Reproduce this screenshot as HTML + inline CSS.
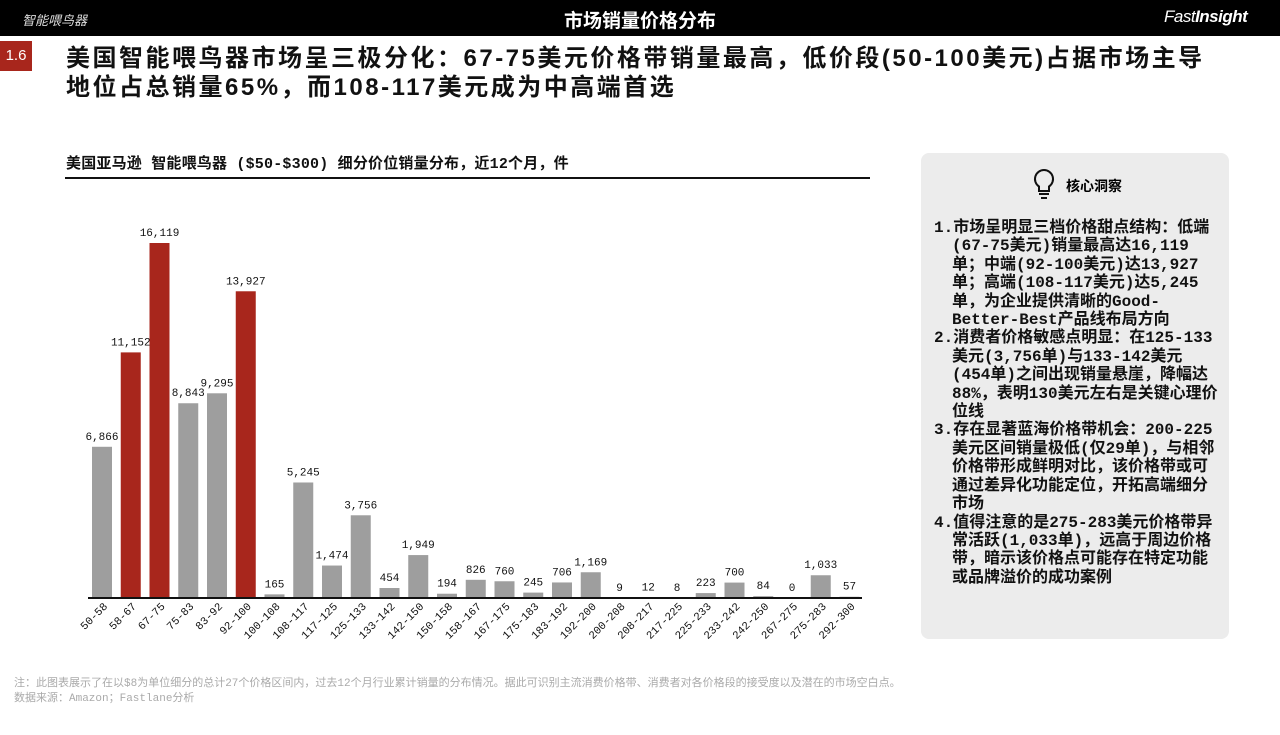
<!DOCTYPE html>
<html><head><meta charset="utf-8"><style>
body{margin:0;width:1280px;height:735px;background:#fff;font-family:"Liberation Sans","Noto Sans CJK SC",sans-serif;position:relative;overflow:hidden}
.abs{position:absolute}
#topbar{left:0;top:0;width:1280px;height:36px;background:#000;color:#fff}
#panel{left:921px;top:153px;width:308px;height:486px;background:#ececec;border-radius:8px}
ol{margin:0;padding:0;list-style:none}
li{font-family:"Liberation Mono","Noto Sans CJK SC",monospace;font-size:16px;line-height:18.4px;font-weight:bold;color:#111;padding-left:18px;text-indent:-18px}
</style></head><body>
<div class="abs" id="topbar">
 <div class="abs" style="left:22px;top:10px;font-size:13px;font-style:italic;color:#ddd">智能喂鸟器</div>
 <div class="abs" style="left:0;width:1280px;top:6px;text-align:center;font-size:19px;font-weight:bold">市场销量价格分布</div>
 <div class="abs" style="left:1164px;top:7px;font-size:17px;font-style:italic;letter-spacing:-0.5px">Fast<b>Insight</b></div>
</div>
<div class="abs" style="left:0;top:41px;width:32px;height:30px;background:#a8261c;color:#fff;font-size:15px;line-height:30px;text-align:center">1.6</div>
<div class="abs" style="left:66px;top:44px;width:1200px;font-size:24px;line-height:29px;font-weight:bold;color:#111;letter-spacing:2.5px">美国智能喂鸟器市场呈三极分化：67-75美元价格带销量最高，低价段(50-100美元)占据市场主导<br>地位占总销量65%，而108-117美元成为中高端首选</div>
<div class="abs" style="left:66px;top:152px;font-family:'Liberation Mono','Noto Sans CJK SC',monospace;font-size:15px;letter-spacing:0.2px;font-weight:bold;color:#111">美国亚马逊 智能喂鸟器 ($50-$300) 细分价位销量分布，近12个月，件</div>
<div class="abs" style="left:65px;top:177px;width:805px;height:2px;background:#111"></div>
<svg class="abs" style="left:0;top:0" width="900" height="660" id="chart" font-family="Liberation Mono, monospace"></svg>
<div class="abs" id="panel">
 <svg class="abs" style="left:110px;top:14px" width="26" height="34"><path d="M13 3a9 9 0 0 0-5 16.5V24h10v-4.5A9 9 0 0 0 13 3z" fill="none" stroke="#111" stroke-width="2"/><line x1="8" y1="27" x2="18" y2="27" stroke="#111" stroke-width="2"/><line x1="10" y1="31" x2="16" y2="31" stroke="#111" stroke-width="2"/></svg>
 <div class="abs" style="left:145px;top:23px;font-size:14px;font-weight:bold">核心洞察</div>
 <ol class="abs" style="left:13px;top:66px;width:285px">
  <li>1.市场呈明显三档价格甜点结构：低端(67-75美元)销量最高达16,119单；中端(92-100美元)达13,927单；高端(108-117美元)达5,245单，为企业提供清晰的Good-Better-Best产品线布局方向</li>
  <li>2.消费者价格敏感点明显：在125-133美元(3,756单)与133-142美元(454单)之间出现销量悬崖，降幅达88%，表明130美元左右是关键心理价位线</li>
  <li>3.存在显著蓝海价格带机会：200-225美元区间销量极低(仅29单)，与相邻价格带形成鲜明对比，该价格带或可通过差异化功能定位，开拓高端细分市场</li>
  <li>4.值得注意的是275-283美元价格带异常活跃(1,033单)，远高于周边价格带，暗示该价格点可能存在特定功能或品牌溢价的成功案例</li>
 </ol>
</div>
<div class="abs" style="left:14px;top:677px;font-size:11px;color:#aaa;line-height:15px;font-family:'Liberation Mono','Noto Sans CJK SC',monospace">注：此图表展示了在以$8为单位细分的总计27个价格区间内，过去12个月行业累计销量的分布情况。据此可识别主流消费价格带、消费者对各价格段的接受度以及潜在的市场空白点。<br>数据来源：Amazon；Fastlane分析</div>
<script>
const categories=["50-58","58-67","67-75","75-83","83-92","92-100","100-108","108-117","117-125","125-133","133-142","142-150","150-158","158-167","167-175","175-183","183-192","192-200","200-208","208-217","217-225","225-233","233-242","242-250","267-275","275-283","292-300"];
const sales=[6866,11152,16119,8843,9295,13927,165,5245,1474,3756,454,1949,194,826,760,245,706,1169,9,12,8,223,700,84,0,1033,57];
const highlighted=[1,2,5];
const svg=document.getElementById('chart');
const NS='http://www.w3.org/2000/svg';
const base=598,x0=102,step=28.75,bw=20;
const y=v=>base-v*(355/16119);
const x=i=>x0+i*step;
function mk(t,a){const e=document.createElementNS(NS,t);for(const k in a)e.setAttribute(k,a[k]);svg.appendChild(e);return e;}
sales.forEach((v,i)=>{
 const r=mk('rect',{x:x(i)-bw/2,y:y(v),width:bw,height:base-y(v),fill:highlighted.includes(i)?'#a8261c':'#9e9e9e'});
 
 
 const t=mk('text',{x:x(i),y:y(v)-7,'text-anchor':'middle','font-size':'11','fill':'#111'});
 t.textContent=v.toLocaleString('en-US');
 
 
 const l=mk('text',{transform:`translate(${x(i)+6},${base+9}) rotate(-45)`,'text-anchor':'end','font-size':'11','fill':'#111'});
 l.textContent=categories[i];
 
 
});
const ax=mk('line',{x1:88,x2:862,y1:base,y2:base,stroke:'#111','stroke-width':2});


</script>
</body></html>
